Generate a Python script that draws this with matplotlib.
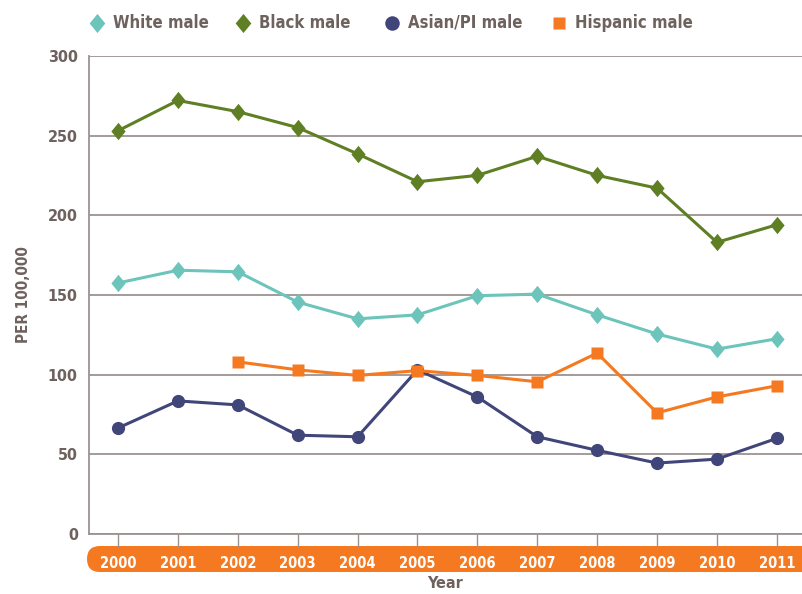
import matplotlib.pyplot as plt
from matplotlib.lines import Line2D
from matplotlib.patches import FancyBboxPatch

plt.rcParams['font.family'] = ['DejaVu Sans']
plt.rcParams['font.stretch'] = 'condensed'

years = list(range(2000, 2012))
white_male = [157.5, 165.5, 164.5, 145.5, 135, 137.5, 149.5, 150.5, 137.5, 125.5, 116, 122.5]
black_male = [253, 272, 265, 255, 238.5, 221, 225, 237, 225, 217, 183, 194]
asian_male = [66.5, 83.5, 81, 62, 61, 103, 86, 61, 52.5, 44.5, 47, 60]
hispanic_years = list(range(2002, 2012))
hispanic_male = [108, 103, 99.5, 102.5, 99.5, 95.5, 113.5, 76, 86, 93]

text_col = '#6e625e'
grid_col = '#9c9292'
diamond = [(0, 1), (0.82, 0), (0, -1), (-0.82, 0), (0, 1)]

series = [
    ('White male', years, white_male, '#6cc4ba', diamond, 12.5),
    ('Black male', years, black_male, '#5e7f23', diamond, 12.5),
    ('Asian/PI male', years, asian_male, '#41467a', 'o', 9.5),
    ('Hispanic male', hispanic_years, hispanic_male, '#f47920', 's', 8),
]

fig = plt.figure(figsize=(8.02, 5.94), dpi=100)
ax = fig.add_axes([0.111, 0.101, 0.889, 0.805])

for name, xs, ys, col, mk, ms in series:
    ax.plot(xs, ys, color=col, lw=2.2, marker=mk, ms=ms, mec='none', zorder=3)

ax.set_xlim(1999.516, 2011.42)
ax.set_ylim(0, 300)
ax.set_yticks(range(0, 301, 50))
ax.set_xticks(years)
ax.grid(axis='y', color=grid_col, lw=1.3)
ax.set_axisbelow(True)
for s in ['top', 'right']:
    ax.spines[s].set_visible(False)
for s in ['left', 'bottom']:
    ax.spines[s].set_color(grid_col)
    ax.spines[s].set_linewidth(1.3)

ax.tick_params(axis='y', length=0, pad=8, labelsize=11.5, labelcolor=text_col)
ax.tick_params(axis='x', length=9, width=1, color=grid_col, pad=6.5,
               labelsize=10.5, labelcolor='white')
for lab in ax.get_xticklabels() + ax.get_yticklabels():
    lab.set_fontweight('bold')

ax.set_ylabel('PER 100,000', fontsize=11, fontweight='bold', color=text_col, labelpad=12)
ax.set_xlabel('Year', fontsize=11.5, fontweight='bold', color=text_col)
ax.xaxis.set_label_coords(0.5, -0.088)

# orange rounded band behind the year labels
band = FancyBboxPatch((0.87, 0.22), 7.4, 0.26, boxstyle='round,pad=0,rounding_size=0.13',
                      transform=fig.dpi_scale_trans, fc='#f47920', ec='none',
                      zorder=0.1, clip_on=False)
ax.add_patch(band)

# legend across the top
leg_x = [0.121, 0.303, 0.489, 0.697]
for (name, xs, ys, col, mk, ms), lx in zip(series, leg_x):
    fig.add_artist(Line2D([lx], [0.962], transform=fig.transFigure, marker=mk,
                          ms=ms * 1.1, color=col, mec='none', ls='none'))
    fig.text(lx + 0.02, 0.962, name, fontsize=12, fontweight='bold',
             color=text_col, va='center', ha='left')

fig.savefig('out.png', dpi=100)
